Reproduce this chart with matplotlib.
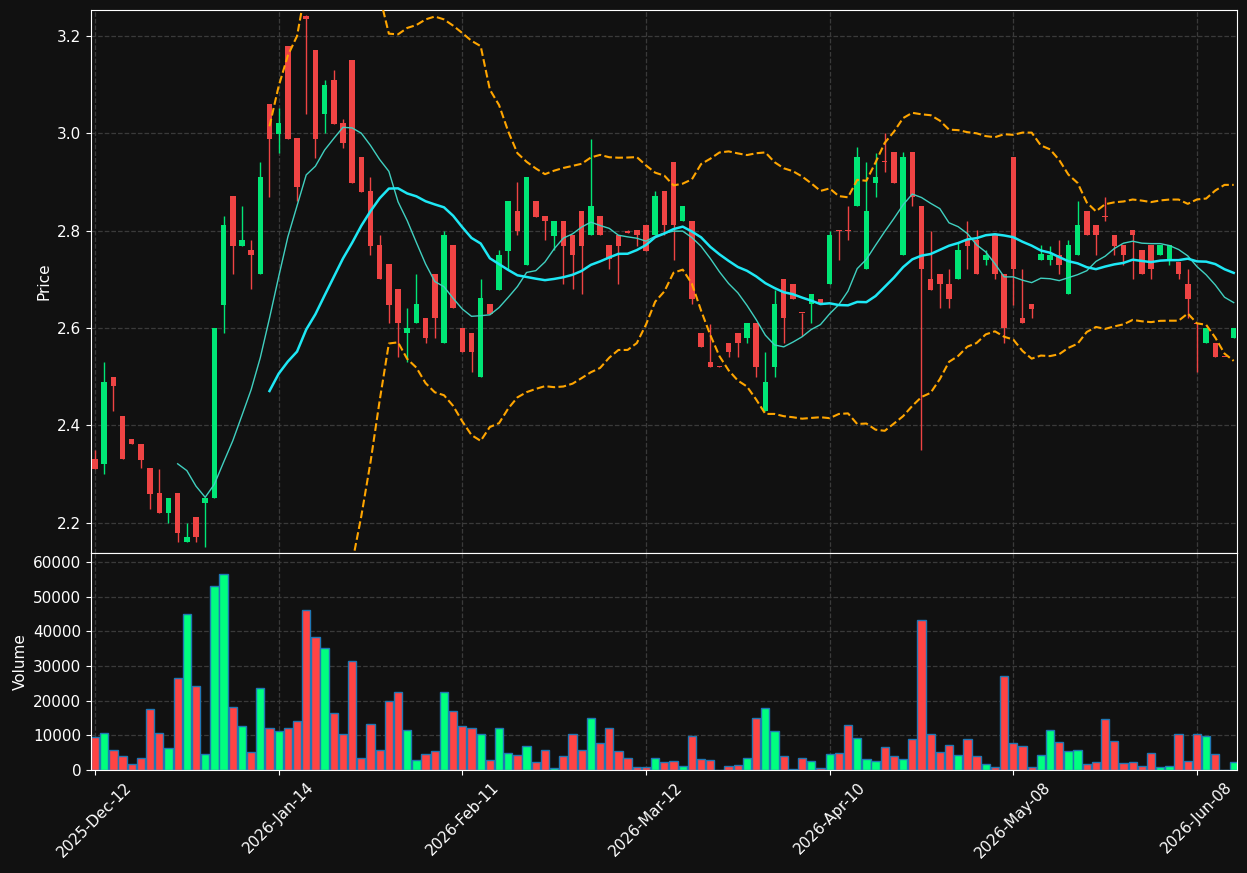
import numpy as np
import pandas as pd
import matplotlib
matplotlib.use("Agg")
import matplotlib.pyplot as plt

tick_labels = ["2025-Dec-12", "2026-Jan-14", "2026-Feb-11", "2026-Mar-12",
               "2026-Apr-10", "2026-May-08", "2026-Jun-08"]

opens = [2.33,2.32,2.50,2.42,2.372,2.361,2.312,2.261,2.221,2.261,2.160,2.211,2.240,2.250,2.648,2.871,2.769,2.761,2.710,3.061,
         2.999,3.180,2.990,3.240,3.170,3.040,3.110,3.021,3.150,2.951,2.881,2.771,2.732,2.680,2.590,2.610,2.621,2.711,2.569,2.771,
         2.601,2.590,2.500,2.650,2.679,2.759,2.841,2.730,2.860,2.830,2.789,2.820,2.791,2.841,2.791,2.830,2.771,2.791,2.800,2.801,
         2.811,2.791,2.881,2.941,2.819,2.820,2.590,2.530,2.521,2.570,2.590,2.579,2.611,2.430,2.520,2.700,2.690,2.631,2.650,2.660,
         2.690,2.801,2.801,2.851,2.721,2.898,2.941,2.961,2.750,2.961,2.850,2.701,2.711,2.691,2.700,2.781,2.781,2.740,2.791,2.711,
         2.951,2.621,2.650,2.740,2.740,2.750,2.670,2.750,2.841,2.811,2.830,2.791,2.771,2.801,2.761,2.771,2.750,2.740,2.736,2.691,
         2.611,2.569,2.570,2.541,2.579]
closes = [2.31,2.49,2.48,2.33,2.361,2.329,2.260,2.221,2.251,2.180,2.170,2.170,2.251,2.600,2.811,2.769,2.781,2.749,2.910,2.989,
          3.021,2.989,2.890,3.235,2.989,3.100,3.019,2.979,2.898,2.880,2.769,2.700,2.648,2.610,2.601,2.650,2.579,2.620,2.791,2.641,
          2.550,2.550,2.661,2.628,2.750,2.860,2.800,2.910,2.828,2.819,2.820,2.769,2.749,2.769,2.850,2.791,2.741,2.769,2.795,2.791,
          2.759,2.871,2.811,2.811,2.850,2.659,2.562,2.520,2.520,2.550,2.570,2.611,2.520,2.490,2.650,2.620,2.659,2.630,2.670,2.650,
          2.791,2.799,2.799,2.951,2.841,2.910,2.940,2.898,2.951,2.870,2.721,2.679,2.690,2.660,2.761,2.769,2.710,2.750,2.710,2.600,
          2.721,2.611,2.640,2.751,2.750,2.730,2.771,2.811,2.791,2.791,2.828,2.769,2.750,2.791,2.710,2.721,2.771,2.771,2.710,2.660,
          2.609,2.600,2.540,2.540,2.600]
highs = [2.35,2.53,2.50,2.42,2.372,2.361,2.312,2.311,2.251,2.261,2.200,2.211,2.251,2.600,2.829,2.871,2.850,2.780,2.941,3.061,
         3.051,3.180,2.990,3.243,3.170,3.110,3.130,3.030,3.150,2.951,2.910,2.791,2.732,2.680,2.641,2.711,2.621,2.711,2.800,2.771,
         2.601,2.590,2.700,2.650,2.761,2.860,2.900,2.910,2.860,2.830,2.820,2.820,2.791,2.841,2.989,2.830,2.771,2.791,2.801,2.801,
         2.811,2.882,2.881,2.941,2.850,2.820,2.590,2.609,2.521,2.570,2.590,2.611,2.611,2.551,2.679,2.700,2.690,2.631,2.670,2.660,
         2.800,2.801,2.850,2.971,2.941,2.960,3.000,2.961,2.961,2.961,2.850,2.800,2.711,2.721,2.775,2.820,2.801,2.760,2.791,2.711,
         2.951,2.721,2.650,2.770,2.769,2.781,2.781,2.860,2.841,2.811,2.870,2.791,2.771,2.801,2.761,2.771,2.771,2.771,2.736,2.721,
         2.611,2.600,2.570,2.541,2.600]
lows = [2.31,2.30,2.43,2.33,2.361,2.312,2.229,2.221,2.200,2.161,2.160,2.161,2.150,2.250,2.590,2.711,2.769,2.680,2.710,2.870,
        2.960,2.989,2.860,3.040,2.950,3.000,3.019,2.970,2.898,2.880,2.749,2.700,2.611,2.540,2.530,2.610,2.570,2.579,2.569,2.641,
        2.550,2.510,2.500,2.628,2.679,2.722,2.791,2.730,2.828,2.780,2.761,2.690,2.680,2.670,2.791,2.791,2.721,2.690,2.795,2.769,
        2.759,2.791,2.791,2.740,2.819,2.650,2.562,2.520,2.520,2.540,2.540,2.570,2.500,2.430,2.500,2.570,2.659,2.583,2.611,2.650,
        2.690,2.740,2.781,2.851,2.721,2.870,2.920,2.898,2.750,2.850,2.350,2.679,2.641,2.641,2.700,2.721,2.710,2.730,2.700,2.570,
        2.648,2.611,2.620,2.740,2.730,2.710,2.670,2.750,2.791,2.750,2.820,2.750,2.730,2.700,2.710,2.700,2.750,2.730,2.700,2.620,
        2.510,2.569,2.540,2.540,2.579]
volumes = [9400,10800,5700,3900,1600,3400,17500,10800,6200,26400,45100,24100,4500,53100,56600,18300,12800,5100,23500,12000,
           11100,12000,14000,46200,38200,35300,16300,10300,31300,3600,13400,5700,19800,22600,11400,2800,4500,5400,22600,16900,
           12600,12000,10500,2800,12000,4800,4200,6800,2200,5700,500,3900,10300,5900,14900,7700,12000,5400,3400,800,
           800,3400,2200,2500,1100,9700,3100,2800,100,1100,1300,3400,15100,18000,11100,3900,200,3600,2500,500,
           4500,4800,13100,9100,3100,2500,6500,3900,3100,8800,43300,10500,5100,7100,4200,8800,3900,1600,800,27200,
           7700,6800,800,4200,11400,8000,5400,5900,1600,2200,14600,8500,1900,2200,1100,4800,800,1100,10500,2500,
           10300,9700,4500,0,2200]

df = pd.DataFrame({"open": opens, "high": highs, "low": lows, "close": closes, "volume": volumes})
x = np.arange(len(df))
ma10 = df["close"].rolling(10).mean()
ma20 = df["close"].rolling(20).mean()
sd20 = df["close"].rolling(20).std()
upper = ma20 + 2 * sd20
lower = ma20 - 2 * sd20

BG = "#111111"
GREEN = "#00e676"
RED = "#ef4444"
VGREEN = "#00ff7f"
VRED = "#ff4444"

fig = plt.figure(figsize=(12.47, 8.73), dpi=100, facecolor=BG)
ax = fig.add_axes([91/1247, 1-553/873, (1237-91)/1247, (553-10)/873])
axv = fig.add_axes([91/1247, 1-770/873, (1237-91)/1247, (770-553)/873], sharex=ax)

up = df["close"] >= df["open"]
colors = np.where(up, GREEN, RED)
ax.vlines(x, df["low"], df["high"], colors=colors, linewidth=1, zorder=2)
body_bottom = np.minimum(df["open"], df["close"])
body_h = np.maximum(np.abs(df["close"] - df["open"]), 0.002)
ax.bar(x, body_h, bottom=body_bottom, width=0.6, color=colors, zorder=3)

ax.plot(x, ma10, color="#40d0c0", linewidth=1, zorder=4)
ax.plot(x, ma20, color="#1ee8f5", linewidth=1.8, zorder=4)
ax.plot(x, upper, color="orange", linestyle="--", linewidth=1.5, zorder=4)
ax.plot(x, lower, color="orange", linestyle="--", linewidth=1.5, zorder=4)

vcolors = np.where(up, VGREEN, VRED)
axv.bar(x, df["volume"], width=0.9, color=vcolors, edgecolor="#1f77b4", linewidth=1)

for a in (ax, axv):
    a.set_facecolor(BG)
    a.grid(True, linestyle="--", color="#3a3a3a", linewidth=0.9)
    a.set_axisbelow(True)
    for s in a.spines.values():
        s.set_color("white")
    a.tick_params(colors="white", labelsize=11)

ax.set_xlim(-0.436, 124.36)
ax.set_ylim(2.138, 3.253)
axv.set_ylim(0, 62540)
ax.set_yticks([2.2, 2.4, 2.6, 2.8, 3.0, 3.2])
axv.set_yticks([0, 10000, 20000, 30000, 40000, 50000, 60000])
ax.tick_params(labelbottom=False)
ax.set_ylabel("Price", color="white", fontsize=11)
axv.set_ylabel("Volume", color="white", fontsize=11)
axv.set_xticks(np.arange(0, 121, 20))
axv.set_xticklabels(tick_labels, rotation=45)

fig.savefig("out.png", dpi=100, facecolor=BG)
